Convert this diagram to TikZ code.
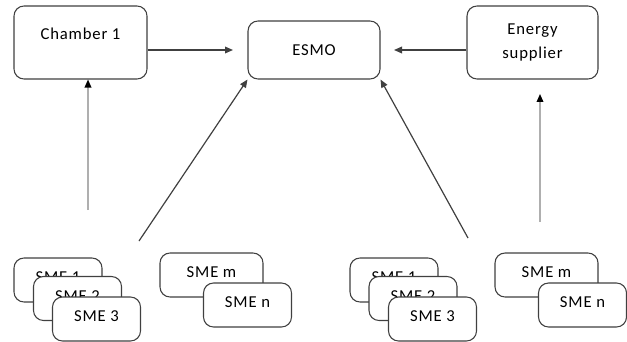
\documentclass[tikz,border=0pt]{standalone}
\usepackage{fontspec}
\setmainfont{Carlito}[LetterSpace=5]
\usetikzlibrary{arrows.meta}

\definecolor{edge}{RGB}{64,64,64}
\definecolor{faint}{RGB}{175,175,175}

\begin{document}
\begin{tikzpicture}[x=0.75pt,y=-0.75pt,
				block/.style={rectangle, rounded corners=7.5pt, draw=edge, line width=0.8pt, fill=white,
					align=center, inner sep=0pt, font=\fontsize{12.5}{18}\selectfont},
				sme/.style={block, minimum width=66pt, minimum height=33pt, text height=8.4pt, text depth=4.2pt},
				link/.style={draw=edge, line width=0.9pt, -{Triangle[length=6pt,width=5pt]}},
				feed/.style={draw=faint, line width=1pt, -{Triangle[length=6pt,width=5pt,color=black]}}
			]
			\useasboundingbox (0,0) rectangle (627,342);
			% top row
			\node[block, minimum width=99.75pt, minimum height=54.75pt] (chamber) at (80.5,42.5) {Chamber 1\\[-5pt]~};
			\node[block, minimum width=99pt, minimum height=43.5pt] (esmo) at (314,50) {ESMO};
			\node[block, minimum width=98.25pt, minimum height=54.75pt] (energy) at (532.5,42.5) {Energy\\supplier};
			% left group of SMEs
			\node[sme] (smeA1) at (58,280) {SME 1};
			\node[sme] (smeA2) at (77.5,298.5) {SME 2};
			\node[sme] (smeA3) at (96.5,319) {SME 3};
			\node[sme, minimum width=77.25pt] (smeAm) at (211.5,275) {SME m};
			\node[sme] (smeAn) at (247.5,305) {SME n};
			% right group of SMEs
			\node[sme] (smeB1) at (394,280) {SME 1};
			\node[sme] (smeB2) at (413,298.5) {SME 2};
			\node[sme] (smeB3) at (432.5,319) {SME 3};
			\node[sme, minimum width=77.25pt] (smeBm) at (546.5,275) {SME m};
			\node[sme] (smeBn) at (582.5,305) {SME n};
			% loose ends of the connectors
			\coordinate (inL) at (233,50);
			\coordinate (inR) at (394,50);
			\coordinate (footL) at (88,210);
			\coordinate (footR) at (540,222);
			\coordinate (topR) at (540,94);
			\coordinate (baseL) at (139,241);
			\coordinate (baseR) at (468,238);
			\draw[link] (chamber.east |- inL) -- (inL);
			\draw[link] (energy.west |- inR) -- (inR);
			\draw[link] (baseL) -- (esmo.south west);
			\draw[link] (baseR) -- (esmo.south east);
			\draw[feed] (footL) -- (chamber.south -| footL);
			\draw[feed] (footR) -- (topR);
\end{tikzpicture}
\end{document}
